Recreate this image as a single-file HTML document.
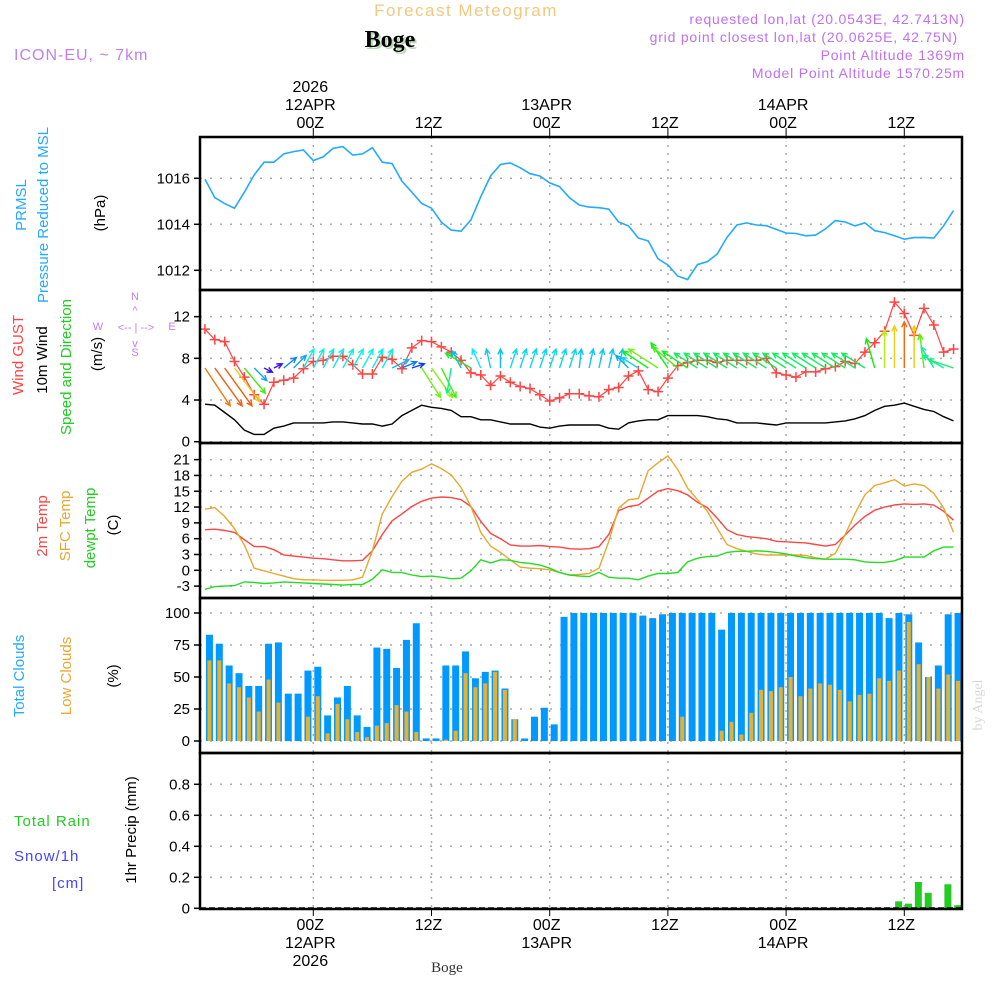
<!DOCTYPE html>
<html><head><meta charset="utf-8"><style>
html,body{margin:0;padding:0;background:#fff;}
svg{display:block;font-family:"Liberation Sans",sans-serif;}
</style></head><body>
<svg id="chart" width="1000" height="1000" viewBox="0 0 1000 1000" xmlns="http://www.w3.org/2000/svg">
<g>
<text x="466" y="16" font-size="17" fill="#f0c880" text-anchor="middle" letter-spacing="1.5">Forecast Meteogram</text>
<text x="392" y="49" font-size="24" font-weight="bold" font-family="Liberation Serif, serif" fill="#b8d8b8" text-anchor="middle">Boge</text>
<text x="390" y="47" font-size="24" font-weight="bold" font-family="Liberation Serif, serif" fill="#000" text-anchor="middle">Boge</text>
<text x="14" y="60" font-size="16" fill="#c080f0" letter-spacing="1">ICON-EU, ~ 7km</text>
<text x="965" y="24" font-size="14" fill="#c070f0" text-anchor="end" letter-spacing="0.8">requested lon,lat (20.0543E, 42.7413N)</text>
<text x="958" y="42" font-size="14" fill="#c070f0" text-anchor="end" letter-spacing="0.8">grid point closest lon,lat (20.0625E, 42.75N)</text>
<text x="965" y="60" font-size="14" fill="#c070f0" text-anchor="end" letter-spacing="0.8">Point Altitude 1369m</text>
<text x="965" y="78" font-size="14" fill="#c070f0" text-anchor="end" letter-spacing="0.8">Model Point Altitude 1570.25m</text>
</g>
<g id="axlabels" font-size="15">
<text transform="translate(26,205) rotate(-90)" fill="#22aaff" text-anchor="middle">PRMSL</text>
<text transform="translate(48,215) rotate(-90)" fill="#22aaff" text-anchor="middle">Pressure Reduced to MSL</text>
<text transform="translate(105,213) rotate(-90)" fill="#000" text-anchor="middle">(hPa)</text>
<text transform="translate(23,355) rotate(-90)" fill="#ff4444" text-anchor="middle">Wind GUST</text>
<text transform="translate(47,360) rotate(-90)" fill="#000" text-anchor="middle">10m Wind</text>
<text transform="translate(71,367) rotate(-90)" fill="#22cc22" text-anchor="middle">Speed and Direction</text>
<text transform="translate(102,354) rotate(-90)" fill="#000" text-anchor="middle">(m/s)</text>
<g fill="#c080f0" font-size="11">
<text x="135" y="300" text-anchor="middle">N</text>
<text x="135" y="314" text-anchor="middle">^</text>
<text x="98" y="330" text-anchor="middle">W</text>
<text x="136" y="331" text-anchor="middle">&lt;-- | --&gt;</text>
<text x="172" y="330" text-anchor="middle">E</text>
<text x="135" y="347" text-anchor="middle">v</text>
<text x="135" y="356" text-anchor="middle">S</text>
</g>
<text transform="translate(47,526) rotate(-90)" fill="#ff4444" text-anchor="middle">2m Temp</text>
<text transform="translate(70,526) rotate(-90)" fill="#e8a830" text-anchor="middle">SFC Temp</text>
<text transform="translate(95,528) rotate(-90)" fill="#22cc22" text-anchor="middle">dewpt Temp</text>
<text transform="translate(118,525) rotate(-90)" fill="#000" text-anchor="middle">(C)</text>
<text transform="translate(24,676) rotate(-90)" fill="#22aaff" text-anchor="middle">Total Clouds</text>
<text transform="translate(71,676) rotate(-90)" fill="#e8a830" text-anchor="middle">Low Clouds</text>
<text transform="translate(118,676) rotate(-90)" fill="#000" text-anchor="middle">(%)</text>
<text x="14" y="826" fill="#22cc22" letter-spacing="1">Total  Rain</text>
<text x="14" y="861" fill="#4444ff" letter-spacing="1">Snow/1h</text>
<text x="52" y="888" fill="#4444ff" letter-spacing="1">[cm]</text>
<text transform="translate(136,830) rotate(-90)" fill="#000" text-anchor="middle">1hr Precip (mm)</text>
<text transform="translate(982,705) rotate(-90)" fill="#d8d8d8" font-family="Liberation Serif, serif" font-size="14" text-anchor="middle">by Angel</text>
<text x="447" y="972" font-size="15" font-family="Liberation Serif, serif" fill="#333" text-anchor="middle">Boge</text>
</g>
<g id="plots"></g>
</svg>
<script>
// time axis: hour offsets from 00Z 12APR
const hours0 = -11;
const pressure = [1015.96,1015.16,1014.9,1014.7,1015.4,1016.15,1016.7,1016.7,1017.06,1017.16,1017.23,1016.77,1016.93,1017.3,1017.38,1017.01,1017.06,1017.33,1016.7,1016.64,1015.88,1015.4,1014.91,1014.7,1014.09,1013.75,1013.7,1014.19,1015.2,1016.1,1016.6,1016.67,1016.46,1016.2,1016.1,1015.8,1015.64,1015.16,1014.84,1014.75,1014.72,1014.66,1014.1,1013.93,1013.4,1013.28,1012.5,1012.23,1011.75,1011.6,1012.25,1012.38,1012.7,1013.43,1013.97,1014.06,1013.97,1013.94,1013.78,1013.62,1013.6,1013.5,1013.53,1013.8,1014.16,1014.1,1013.93,1014.06,1013.72,1013.64,1013.5,1013.35,1013.42,1013.43,1013.4,1013.94,1014.6];
const wind10m = [3.6,3.5,2.8,2.1,1.1,0.7,0.7,1.3,1.5,1.8,1.8,1.8,1.8,1.9,1.9,1.8,1.7,1.7,1.5,1.7,2.5,3.0,3.5,3.3,3.2,3.0,2.4,2.4,2.1,2.1,1.9,1.7,1.7,1.7,1.4,1.3,1.5,1.6,1.6,1.6,1.6,1.3,1.2,1.8,2.0,2.1,2.1,2.5,2.5,2.5,2.5,2.4,2.2,2.1,1.8,1.8,1.8,1.7,1.6,1.8,1.8,1.8,1.8,1.8,1.9,2.0,2.2,2.5,3.0,3.4,3.5,3.7,3.4,3.1,2.9,2.4,2.0];
const gust = [10.8,9.8,9.6,7.7,6.2,4.5,3.6,5.7,5.9,6.1,7.0,7.7,7.8,8.2,8.2,7.4,6.5,6.5,8.1,7.9,7.0,9.0,9.7,9.6,9.1,8.6,7.8,6.6,6.4,5.4,6.3,5.7,5.3,5.1,4.5,3.9,4.2,4.6,4.6,4.4,4.3,5.0,5.2,6.3,6.8,5.0,4.8,6.1,7.3,7.6,7.8,7.8,7.6,7.8,7.8,7.8,7.8,8.0,6.6,6.4,6.2,6.7,6.7,7.0,7.2,7.7,7.5,8.6,9.5,10.6,13.4,12.3,10.2,12.8,11.2,8.6,8.9];
const windU = [6,6.5,6.5,6,5,3,2,2,3,3,2.5,2.5,2.5,2.5,2.5,2.5,2.5,2.5,2.5,4,3.5,3,4.5,5,3.5,-1,-2,-6,-2,-1,0,1.5,1.5,1.5,1.5,1.5,1.5,1.5,0.5,1,1,1,1,-3,-4,-6,-7,-4,-6,-6,-5.5,-5.5,-5.5,-5.5,-5.5,-5.5,-5.5,-5.5,-5.5,-5.5,-5.5,-5.5,-5.5,-5.5,-5.5,-5.5,-5.5,-5.5,-2,0,0,0,0,-1,-3,-5,-6];
const windV = [-9,-9,-9,-8,-6,-3,-1,1,2.5,3,4.5,4.5,4.5,4.5,4.5,4.5,4.5,4.5,4.5,2,1.5,1,-7,-7,-7,-6,4,3.5,4.5,4.5,4.5,4.5,4.5,4.5,4.5,4.5,4.5,4.5,4.5,4.5,4.5,4.5,4.5,3,2.5,4,4.5,6,5,4,3.5,3.5,3.5,3.5,3.5,3.5,3.5,3.5,3.5,3.5,3.5,3.5,3.5,3.5,3.5,3.5,3.5,3.5,7,9,10,11,10,8,5,3,2];
const temp2m = [7.7,7.8,7.55,7.2,5.8,4.5,4.5,3.9,2.9,2.7,2.5,2.3,2.2,2.0,1.8,1.8,1.9,3.7,6.8,9.4,10.7,12.1,13.1,13.7,13.9,13.8,13.4,12.1,9.3,7.0,6.0,4.8,4.6,4.6,4.7,4.5,4.4,4.1,4.0,4.1,4.5,6.8,11.3,12.1,12.4,13.7,15.0,15.5,15.1,14.3,12.9,11.9,9.9,7.7,6.8,6.4,6.2,6.0,5.5,5.4,5.3,5.2,4.9,4.6,4.9,6.7,8.6,10.2,11.4,12.0,12.4,12.6,12.5,12.6,12.4,11.2,9.5];
const tempSfc = [11.6,11.9,10.2,7.9,4.8,0.4,-0.1,-0.6,-1.1,-1.6,-1.8,-1.8,-1.9,-1.9,-1.9,-1.8,-1.3,3.7,10.7,14.0,16.9,18.6,19.2,20.2,19.3,18.1,15.7,12.1,7.2,4.6,3.4,2.0,0.6,0.4,0.3,0.1,-0.4,-0.9,-0.8,-0.6,0.4,5.5,11.8,13.4,13.6,18.9,20.4,21.7,19.1,15.6,13.4,11.2,8.0,4.9,4.1,3.6,3.1,2.9,2.9,2.9,2.9,2.8,2.4,2.1,3.2,6.8,10.8,14.3,16.1,16.6,17.2,16.0,16.4,16.1,14.6,11.8,7.2];
const dewpt = [-3.6,-3.1,-3.0,-2.9,-2.2,-2.3,-2.5,-2.4,-2.2,-2.3,-2.4,-2.5,-2.6,-2.7,-2.8,-2.7,-2.7,-1.7,0.1,-0.4,-0.4,-0.9,-1.2,-1.1,-1.3,-1.6,-1.5,-0.1,2.0,1.4,2.0,1.9,1.5,1.3,1.0,0.4,-0.4,-0.9,-1.1,-1.2,-0.4,-1.3,-1.5,-1.5,-1.8,-1.1,-0.6,-0.6,-0.4,1.6,2.3,2.6,2.7,3.4,3.6,3.6,3.7,3.6,3.4,3.1,2.7,2.4,2.2,2.1,2.1,2.1,2.0,1.6,1.5,1.5,1.8,2.5,2.5,2.5,3.7,4.4,4.4];
const totalCloud = [83,76,59,53,43,43,76,77,37,37,55,58,20,34,43,20,11,73,72,57,79,92,2,2,59,59,70,49,54,55,41,17,2,19,26,13,97,100,100,100,100,100,100,100,98,96,99,100,100,100,100,100,87,100,100,100,100,100,100,100,100,100,100,100,100,100,100,100,100,96,100,99,77,50,59,99,100];
const lowCloud = [63,63,45,42,34,23,48,30,0,0,19,35,6,29,17,7,3,12,14,28,23,7,0,0,1,8,53,42,45,54,40,17,0,0,0,0,0,0,0,0,0,0,0,0,0,0,0,0,19,0,0,0,8,15,5,22,40,39,42,50,35,41,45,44,40,31,36,37,49,47,55,93,60,50,41,52,47];
const precip = [0,0,0,0,0,0,0,0,0,0,0,0,0,0,0,0,0,0,0,0,0,0,0,0,0,0,0,0,0,0,0,0,0,0,0,0,0,0,0,0,0,0,0,0,0,0,0,0,0,0,0,0,0,0,0,0,0,0,0,0,0,0,0,0,0,0,0,0,0,0,0.045,0.03,0.17,0.10,0,0.155,0.02];
const pressTicks = [1012,1014,1016];
const windTicks = [0,4,8,12];
const tempTicks = [-3,0,3,6,9,12,15,18,21];
const cloudTicks = [0,25,50,75,100];
const precipTicks = [0,0.2,0.4,0.6,0.8];
const gridHours = [0,12,24,36,48,60];
const topLabels = [["2026","12APR","00Z"],["","","12Z"],["","13APR","00Z"],["","","12Z"],["","14APR","00Z"],["","","12Z"]];
const botLabels = [["00Z","12APR","2026"],["12Z","",""],["00Z","13APR",""],["12Z","",""],["00Z","14APR",""],["12Z","",""]];

const NS="http://www.w3.org/2000/svg";
const root=document.getElementById('plots');
const L=200,R=962;
function xOf(h){return 313.3+9.85*h;}
function yP(v){return 178.3-(v-1016)*23;}
function yW(v){return 441.7-v*10.42;}
function yT(v){return 570.3-v*5.27;}
function yC(v){return 741-v*1.28;}
function yR(v){return 908.3-v*155;}
function mk(tag,attrs,parent){const e=document.createElementNS(NS,tag);for(const k in attrs)e.setAttribute(k,attrs[k]);(parent||root).appendChild(e);return e;}
const panels=[[137,290,'pressure-panel'],[290,443,'wind-panel'],[443,598,'temperature-panel'],[598,753,'cloud-panel'],[753,909,'precip-panel']];
const clip=mk('clipPath',{id:'pc'});mk('rect',{x:L,y:130,width:R-L,height:790},clip);
panels.forEach(p=>{
  const g=mk('g',{});
  
  
  gridHours.forEach(h=>{const ln=mk('line',{x1:xOf(h),x2:xOf(h),y1:p[0],y2:p[1],stroke:'#aaa','stroke-width':1.5,'stroke-dasharray':'2 6'},g);
    
    });
});
function yAxis(ticks,fy,fmt,name){
  const g=mk('g',{});
  
  
  ticks.forEach(t=>{const y=fy(t);
    mk('line',{x1:L,x2:R,y1:y,y2:y,stroke:'#aaa','stroke-width':1.5,'stroke-dasharray':'2 8'},g);
    mk('line',{x1:L-6,x2:L,y1:y,y2:y,stroke:'#000','stroke-width':1.5},g);
    const tx=mk('text',{x:L-10,y:y+5,'font-size':15,'text-anchor':'end',fill:'#000'},g);tx.textContent=fmt(t);
    
    
  });
}
yAxis(pressTicks,yP,t=>t,'pressure-y-axis');
yAxis(windTicks,yW,t=>t,'wind-y-axis');
yAxis(tempTicks,yT,t=>t,'temp-y-axis');
yAxis(cloudTicks,yC,t=>t,'cloud-y-axis');
yAxis(precipTicks,yR,t=>t===0?'0':t.toFixed(1),'precip-y-axis');
const cg=mk('g',{'clip-path':'url(#pc)'});


totalCloud.forEach((v,i)=>{const x=xOf(hours0+i)+4.5;
  const b=mk('rect',{x:x-3.5,y:yC(v),width:7,height:yC(0)-yC(v),fill:'#0099ff'},cg);
  
  
  if(lowCloud[i]>0){const c=mk('rect',{x:x-2,y:yC(lowCloud[i]),width:4,height:yC(0)-yC(lowCloud[i]),fill:'#e8b030'},cg);
  
  }
});
const pg=mk('g',{'clip-path':'url(#pc)'});


precip.forEach((v,i)=>{if(v<=0)return;const x=xOf(hours0+i)+4.2;
  const b=mk('rect',{x:x-3.5,y:yR(v),width:7,height:yR(0)-yR(v),fill:'#22cc22'},pg);
  
  });
mk('line',{x1:L,x2:R,y1:908,y2:908,stroke:'#000','stroke-width':1.5,'stroke-dasharray':'6 3'});
function line(arr,fy,color,name,w){const pts=arr.map((v,i)=>xOf(hours0+i).toFixed(1)+','+fy(v).toFixed(1)).join(' ');
  const p=mk('polyline',{points:pts,fill:'none',stroke:color,'stroke-width':w||1.4,'clip-path':'url(#pc)'});
  
  }
line(pressure,yP,'#22aaff','pressure-line',1.6);
line(wind10m,yW,'#000','wind10m-line');
line(gust,yW,'#ff4444','gust-line',1.2);
line(temp2m,yT,'#ff4444','temp2m-line');
line(tempSfc,yT,'#e8a830','sfc-temp-line');
line(dewpt,yT,'#22dd22','dewpt-line');
const gm=mk('g',{'clip-path':'url(#pc)'});


gust.forEach((v,i)=>{const x=xOf(hours0+i),y=yW(v);
  mk('path',{d:`M${x-5} ${y}H${x+5}M${x} ${y-5}V${y+5}`,stroke:'#ff4444','stroke-width':1.5},gm);});
const ag=mk('g',{'clip-path':'url(#pc)'});


windU.forEach((u,i)=>{const v=windV[i];const sp=Math.hypot(u,v);const hue=Math.max(5,Math.min(280,310-26*sp));
  const col=`hsl(${hue},88%,50%)`;const x0=xOf(hours0+i),y0=368;const x1=x0+u*4.2,y1=y0-v*4.2;
  const a=Math.atan2(y1-y0,x1-x0),s=6;
  const p=mk('path',{d:`M${x0} ${y0}L${x1} ${y1}M${x1-s*Math.cos(a-0.45)} ${y1-s*Math.sin(a-0.45)}L${x1} ${y1}L${x1-s*Math.cos(a+0.45)} ${y1-s*Math.sin(a+0.45)}`,stroke:col,'stroke-width':1.4,fill:'none'},ag);
  
  });
panels.forEach(p=>{const r=mk('rect',{x:L,y:p[0],width:R-L,height:p[1]-p[0],fill:'none',stroke:'#000','stroke-width':2.5});
  
  });
gridHours.forEach((h,i)=>{const x=xOf(h)-3;
  mk('line',{x1:x+3,x2:x+3,y1:128,y2:137,stroke:'#000','stroke-width':1});
  mk('line',{x1:x+3,x2:x+3,y1:909,y2:916,stroke:'#000','stroke-width':1});
  topLabels[i].forEach((t,j)=>{if(!t)return;const tx=mk('text',{x:x,y:92+j*18,'font-size':16,'text-anchor':'middle',fill:'#000'});tx.textContent=t;
    
    });
  botLabels[i].forEach((t,j)=>{if(!t)return;const tx=mk('text',{x:x,y:930+j*18,'font-size':16,'text-anchor':'middle',fill:'#000'});tx.textContent=t;
    
    });
});
</script>
</body></html>
